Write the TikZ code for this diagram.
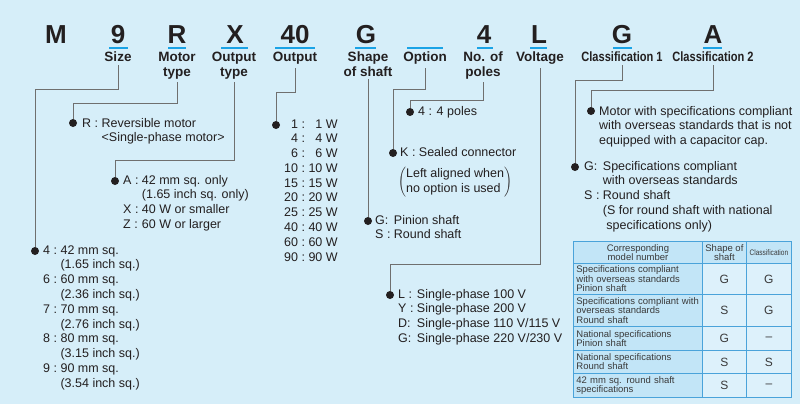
\documentclass[tikz,border=0pt]{standalone}
\usepackage{fontspec}
\setmainfont{Liberation Sans}
\newfontfamily\narrowfont{Liberation Sans}[FakeStretch=0.82]
\definecolor{bgblue}{HTML}{D6EEF9}
\definecolor{codeblue}{HTML}{1AA3E6}
\definecolor{treegray}{HTML}{6F6F6F}
\definecolor{inkblack}{HTML}{231F20}
\definecolor{tblline}{HTML}{4AA3DA}
\definecolor{tblhead}{HTML}{C2E5F7}
\definecolor{tblcell}{HTML}{DDF1FB}
\definecolor{tbltext}{HTML}{3A3A3A}

\begin{document}
\begin{tikzpicture}[x=1pt, y=-1pt,
  code/.style={font=\fontsize{26}{26}\selectfont\bfseries, text=inkblack, anchor=base, inner sep=0pt},
  lbl/.style={font=\fontsize{13.5}{14}\selectfont\bfseries, text=inkblack, anchor=base, align=center, inner sep=0pt},
  nlbl/.style={lbl, font=\fontsize{13.5}{14}\selectfont\narrowfont\bfseries},
  uline/.style={codeblue, line width=2pt},
  leader/.style={treegray, line width=0.9pt, shorten <=3pt},
  bullet/.style={circle, fill=inkblack, inner sep=0pt, minimum size=8pt},
  desc/.style={font=\fontsize{12.5}{14.8}\selectfont, text=inkblack, anchor=base west, inner sep=0pt},
  cell/.style={draw=tblline, line width=0.8pt, fill=tblhead, anchor=north west, inner sep=0pt,
    font=\fontsize{9.5}{9.4}\selectfont, text=tbltext},
  rowtext/.style={text width=123pt, align=left},
  data/.style={fill=tblcell, font=\fontsize{12}{12}\selectfont},
  colA/.style={minimum width=129pt},
  colB/.style={minimum width=44pt},
  colC/.style={minimum width=45pt}]

  % background
  \fill[bgblue] (0,0) rectangle (800,404);
  \useasboundingbox (0,0) rectangle (800,404);

  % model code
  \node[code] (cM) at (56,44) {M};
  \node[code] (c9) at (118,44) {9};
  \node[code] (cR) at (177,44) {R};
  \node[code] (cX) at (235,44) {X};
  \node[code] (c40) at (295,44) {40};
  \node[code] (cG) at (366,44) {G};
  \node[code] (c4) at (484,44) {4};
  \node[code] (cL) at (539,44) {L};
  \node[code] (cG2) at (622,44) {G};
  \node[code] (cA) at (713,44) {A};
  \draw[uline] (109,48) -- (128,48);
  \draw[uline] (168,48) -- (186,48);
  \draw[uline] (221,48) -- (248,48);
  \draw[uline] (275,48) -- (315,48);
  \draw[uline] (355,48) -- (376,48);
  \draw[uline] (407,48) -- (443,48);
  \draw[uline] (477,48) -- (493,48);
  \draw[uline] (530,48) -- (547,48);
  \draw[uline] (613,48) -- (632,48);
  \draw[uline] (703,48) -- (722,48);

  % headings (base = last line)
  \node[lbl] (lSize) at (118,62) {Size};
  \node[lbl] (lMotor) at (177,76) {Motor\\type};
  \node[lbl] (lOutType) at (234,76) {Output\\type};
  \node[lbl] (lOutput) at (295,62) {Output};
  \node[lbl] (lShape) at (368,76) {Shape\\of shaft};
  \node[lbl] (lOption) at (425,62) {Option};
  \node[lbl] (lPoles) at (483,76) {No. of\\poles};
  \node[lbl] (lVolt) at (540,62) {Voltage};
  \node[nlbl] (lClass1) at (622,62) {Classification 1};
  \node[nlbl] (lClass2) at (713,62) {Classification 2};

  % bullets
  \node[bullet] (dSize) at (35,251) {};
  \node[bullet] (dMotor) at (73,123) {};
  \node[bullet] (dOutType) at (115,181) {};
  \node[bullet] (dOutput) at (276,125) {};
  \node[bullet] (dShape) at (368,221) {};
  \node[bullet] (dOption) at (393,153) {};
  \node[bullet] (dPoles) at (410,112) {};
  \node[bullet] (dVolt) at (390,295) {};
  \node[bullet] (dClass1) at (575,167) {};
  \node[bullet] (dClass2) at (591,111) {};

  % leaders
  \draw[leader] (lSize.south) -- (lSize.south |- 0,89) -| (dSize);
  \draw[leader] (lMotor.south) -- (lMotor.south |- 0,103) -| (dMotor);
  \draw[leader] (lOutType.south) -- (lOutType.south |- 0,160) -| (dOutType);
  \draw[leader] (lOutput.south) -- (lOutput.south |- 0,92) -| (dOutput);
  \draw[leader] (lShape.south) -- (dShape);
  \draw[leader] (lOption.south) -- (lOption.south |- 0,89) -| (dOption);
  \draw[leader] (lPoles.south) -- (lPoles.south |- 0,100) -| (dPoles);
  \draw[leader] (lVolt.south) -- (lVolt.south |- 0,264) -| (dVolt);
  \draw[leader] (lClass1.south) -- (lClass1.south |- 0,80) -| (dClass1);
  \draw[leader] (lClass2.south) -- (lClass2.south |- 0,90) -| (dClass2);

  % descriptions
  \node[desc] (tSize) at (43,254) {\begin{tabular}[t]{@{}l@{\ }l@{}}
    4 : & 42 mm sq.\\ & (1.65 inch sq.)\\ 6 : & 60 mm sq.\\ & (2.36 inch sq.)\\
    7 : & 70 mm sq.\\ & (2.76 inch sq.)\\ 8 : & 80 mm sq.\\ & (3.15 inch sq.)\\
    9 : & 90 mm sq.\\ & (3.54 inch sq.)\end{tabular}};
  \node[desc] (tMotor) at (82,127) {\begin{tabular}[t]{@{}l@{\ }l@{}}
    R : & Reversible motor\\ & <Single-phase motor>\end{tabular}};
  \node[desc] (tOutType) at (123,184) {\begin{tabular}[t]{@{}l@{\ }l@{}}
    A : & 42 mm sq. only\\ & (1.65 inch sq. only)\\ X : & 40 W or smaller\\
    Z : & 60 W or larger\end{tabular}};
  \node[desc] (tOutput) at (284,128) {\begin{tabular}[t]{@{}r@{\ :\ }r@{\ }l@{}}
    1 & 1 & W\\ 4 & 4 & W\\ 6 & 6 & W\\ 10 & 10 & W\\ 15 & 15 & W\\
    20 & 20 & W\\ 25 & 25 & W\\ 40 & 40 & W\\ 60 & 60 & W\\ 90 & 90 & W\end{tabular}};
  \node[desc] (tShape) at (375,224) {\begin{tabular}[t]{@{}l@{\ }l@{}}
    G: & Pinion shaft\\ S : & Round shaft\end{tabular}};
  \node[desc] (tOption) at (400,156) {K : Sealed connector};
  \node[desc, anchor=north west] (tOptNote) at (398,167)
    {$\left(\begin{tabular}{@{}l@{}}Left aligned when\\no option is used\end{tabular}\right)$};
  \node[desc] (tPoles) at (418,115) {4 : 4 poles};
  \node[desc] (tVolt) at (398,298) {\begin{tabular}[t]{@{}l@{\ }l@{}}
    L : & Single-phase 100 V\\ Y : & Single-phase 200 V\\
    D: & Single-phase 110 V/115 V\\ G: & Single-phase 220 V/230 V\end{tabular}};
  \node[desc] (tClass1) at (584,170) {\begin{tabular}[t]{@{}l@{\ }l@{}}
    G: & Specifications compliant\\ & with overseas standards\\ S : & Round shaft\\
    & (S for round shaft with national\\ & \ specifications only)\end{tabular}};
  \node[desc] (tClass2) at (599,115) {\begin{tabular}[t]{@{}l@{}}
    Motor with specifications compliant\\ with overseas standards that is not\\
    equipped with a capacitor cap.\end{tabular}};

  % table
  \node[cell, colA, minimum height=22pt, align=center] (hModel) at (573,241) {Corresponding\\model number};
  \node[cell, colB, minimum height=22pt, align=center] (hShape) at (702,241) {Shape of\\shaft};
  \node[cell, colC, minimum height=22pt, font=\fontsize{8}{9}\selectfont\narrowfont] (hClass) at (746,241) {Classification};

  \node[cell, colA, rowtext, minimum height=31pt] (rA) at (573,263) {Specifications compliant\\with overseas standards\\Pinion shaft};
  \node[cell, colB, data, minimum height=31pt] (rAs) at (702,263) {G};
  \node[cell, colC, data, minimum height=31pt] (rAc) at (746,263) {G};

  \node[cell, colA, rowtext, minimum height=32pt] (rB) at (573,294) {Specifications compliant with\\overseas standards\\Round shaft};
  \node[cell, colB, data, minimum height=32pt] (rBs) at (702,294) {S};
  \node[cell, colC, data, minimum height=32pt] (rBc) at (746,294) {G};

  \node[cell, colA, rowtext, minimum height=24pt] (rC) at (573,326) {National specifications\\Pinion shaft};
  \node[cell, colB, data, minimum height=24pt] (rCs) at (702,326) {G};
  \node[cell, colC, data, minimum height=24pt] (rCc) at (746,326) {–};

  \node[cell, colA, rowtext, minimum height=23pt] (rD) at (573,350) {National specifications\\Round shaft};
  \node[cell, colB, data, minimum height=23pt] (rDs) at (702,350) {S};
  \node[cell, colC, data, minimum height=23pt] (rDc) at (746,350) {S};

  \node[cell, colA, rowtext, minimum height=24pt] (rE) at (573,373) {42 mm sq. round shaft\\specifications};
  \node[cell, colB, data, minimum height=24pt] (rEs) at (702,373) {S};
  \node[cell, colC, data, minimum height=24pt] (rEc) at (746,373) {–};

\end{tikzpicture}
\end{document}
